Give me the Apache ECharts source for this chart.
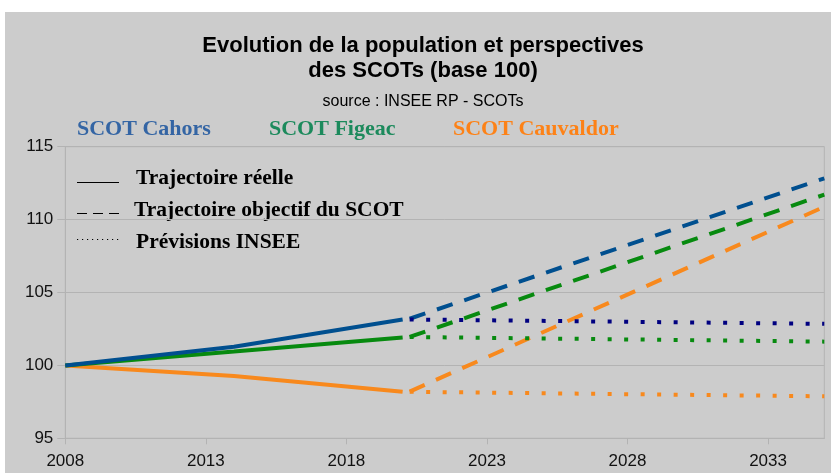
<!DOCTYPE html>
<html>
<head>
<meta charset="utf-8">
<script src="https://cdn.jsdelivr.net/npm/echarts@6/dist/echarts.min.js"></script>
<style>
  html, body { margin: 0; padding: 0; background: #fff; }
  #chart { width: 831px; height: 473px; }
</style>
</head>
<body>
<div id="chart"></div>
<script>
// x axis counts years from this base so ticks land on 2008, 2013, ...
const BASE_YEAR = 2008;
const xTickLabels = [2008, 2013, 2018, 2023, 2028, 2033];

// observed trajectory
const realYears = [2008, 2014, 2020];
const cahorsReal = [100, 101.28, 103.15];
const figeacReal = [100, 100.95, 101.92];
const cauvaldorReal = [100, 99.27, 98.19];

// projections (SCOT objective and INSEE forecasts)
const projYears = [2020.25, 2035];
const cahorsObjectif = [103.2, 112.83];
const figeacObjectif = [101.95, 111.71];
const cauvaldorObjectif = [98.2, 110.88];
const cahorsInsee = [103.15, 102.85];
const figeacInsee = [101.95, 101.63];
const cauvaldorInsee = [98.19, 97.88];

const scotNames = ['SCOT Cahors', 'SCOT Figeac', 'SCOT Cauvaldor'];
const legendNames = ['Trajectoire réelle', 'Trajectoire objectif du SCOT', 'Prévisions INSEE'];

const pairs = (years, vals) => years.map((y, i) => [y - BASE_YEAR, vals[i]]);

const SANS = '"Liberation Sans", Arial, sans-serif';
const SERIF = '"Liberation Serif", "Times New Roman", serif';
const AXIS_GRAY = '#b3b3b3';

const lineSeries = (name, years, vals, color, type, z) => ({
  name: name,
  type: 'line',
  data: pairs(years, vals),
  showSymbol: false,
  symbol: 'none',
  z: z,
  lineStyle: { color: color, width: 4, type: type, cap: 'butt' },
  emphasis: { disabled: true }
});

const DASH = [16.5, 12.3];
const DOT = [4, 12.5];

const chart = echarts.init(document.getElementById('chart'));

chart.setOption({
  animation: false,
  backgroundColor: '#ffffff',
  title: {
    text: 'Evolution de la population et perspectives\ndes SCOTs (base 100)',
    subtext: 'source : INSEE RP - SCOTs',
    left: 423,
    top: 33,
    padding: 0,
    textAlign: 'center',
    itemGap: 10,
    textStyle: { fontFamily: SANS, fontSize: 22, fontWeight: 'bold', color: '#000', lineHeight: 25 },
    subtextStyle: { fontFamily: SANS, fontSize: 16, color: '#000', lineHeight: 18 }
  },
  graphic: [
    { type: 'rect', z: -100, silent: true, shape: { x: 5, y: 12, width: 826, height: 461 }, style: { fill: '#cccccc' } },
    // SCOT colour keys
    { type: 'text', x: 77, y: 129, style: { text: scotNames[0], fill: '#3465a4', font: 'bold 22px ' + SERIF, verticalAlign: 'middle' } },
    { type: 'text', x: 269, y: 129, style: { text: scotNames[1], fill: '#1c8a5c', font: 'bold 22px ' + SERIF, verticalAlign: 'middle' } },
    { type: 'text', x: 453, y: 129, style: { text: scotNames[2], fill: '#fd8217', font: 'bold 22px ' + SERIF, verticalAlign: 'middle' } },
    // line style key
    { type: 'line', shape: { x1: 77, y1: 182.5, x2: 119, y2: 182.5 }, style: { stroke: '#000', lineWidth: 1 } },
    { type: 'line', shape: { x1: 77, y1: 213.5, x2: 119, y2: 213.5 }, style: { stroke: '#000', lineWidth: 1, lineDash: [10, 6] } },
    { type: 'line', shape: { x1: 77, y1: 239.5, x2: 119, y2: 239.5 }, style: { stroke: '#000', lineWidth: 1, lineDash: [1.2, 3.8] } },
    { type: 'text', x: 136, y: 178.5, style: { text: legendNames[0], fill: '#000', font: 'bold 21.5px ' + SERIF, verticalAlign: 'middle' } },
    { type: 'text', x: 134, y: 210.5, style: { text: legendNames[1], fill: '#000', font: 'bold 21.5px ' + SERIF, verticalAlign: 'middle' } },
    { type: 'text', x: 136, y: 242, style: { text: legendNames[2], fill: '#000', font: 'bold 21.5px ' + SERIF, verticalAlign: 'middle' } }
  ],
  grid: {
    left: 65.3,
    top: 146.7,
    right: 6.7,
    bottom: 34.7,
    show: true,
    borderColor: AXIS_GRAY,
    borderWidth: 1,
    backgroundColor: 'transparent'
  },
  xAxis: {
    type: 'value',
    min: 0,
    max: 27,
    interval: 5,
    axisLine: { show: true, lineStyle: { color: AXIS_GRAY, width: 1 } },
    axisTick: { show: true, length: 6, lineStyle: { color: AXIS_GRAY } },
    splitLine: { show: false },
    axisLabel: {
      margin: 15,
      showMaxLabel: false,
      fontFamily: SANS,
      fontSize: 17,
      color: '#111',
      formatter: (v) => {
        const label = xTickLabels.find(y => y - BASE_YEAR === v);
        return label === undefined ? '' : String(label);
      }
    }
  },
  yAxis: {
    type: 'value',
    min: 95,
    max: 115,
    interval: 5,
    axisLine: { show: true, lineStyle: { color: AXIS_GRAY, width: 1 } },
    axisTick: { show: true, length: 8, lineStyle: { color: AXIS_GRAY } },
    splitLine: { show: true, lineStyle: { color: AXIS_GRAY, width: 1 } },
    axisLabel: { margin: 12, fontFamily: SANS, fontSize: 17, color: '#111' }
  },
  series: [
    lineSeries('Cauvaldor objectif', projYears, cauvaldorObjectif, '#f8891d', DASH, 2),
    lineSeries('Figeac objectif', projYears, figeacObjectif, '#078a0f', DASH, 3),
    lineSeries('Cahors objectif', projYears, cahorsObjectif, '#004f8f', DASH, 3),
    lineSeries('Cauvaldor INSEE', projYears, cauvaldorInsee, '#f8891d', DOT, 4),
    lineSeries('Figeac INSEE', projYears, figeacInsee, '#078a0f', DOT, 4),
    lineSeries('Cahors INSEE', projYears, cahorsInsee, '#000080', DOT, 4),
    lineSeries('Cauvaldor réel', realYears, cauvaldorReal, '#f8891d', 'solid', 5),
    lineSeries('Figeac réel', realYears, figeacReal, '#078a0f', 'solid', 5),
    lineSeries('Cahors réel', realYears, cahorsReal, '#004f8f', 'solid', 6)
  ]
});
</script>
</body>
</html>
